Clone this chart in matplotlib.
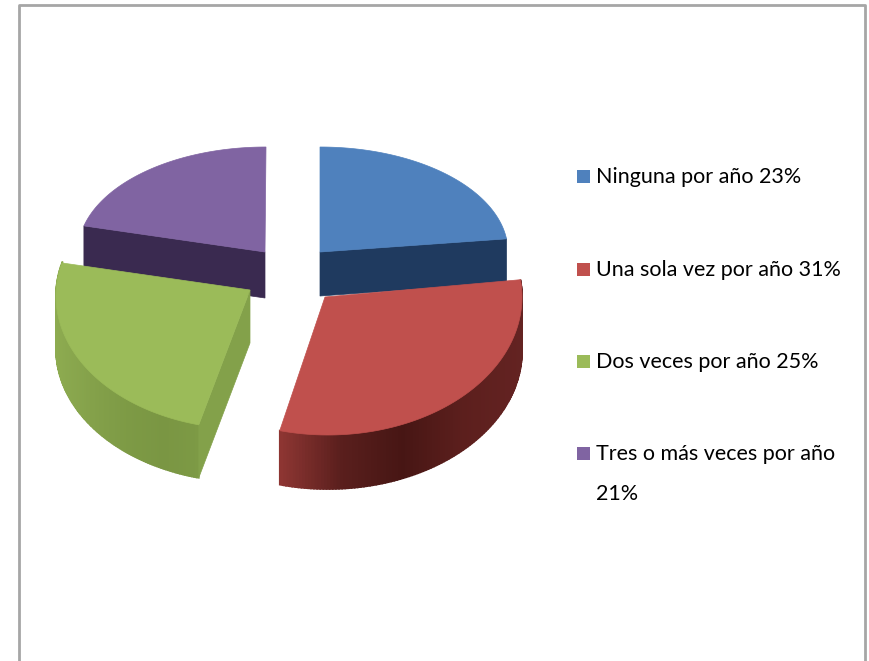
import numpy as np
import matplotlib
matplotlib.use("Agg")
import matplotlib.pyplot as plt
from matplotlib.patches import Polygon, Rectangle
from matplotlib.colors import to_rgb

# exploded 3d style pie, drawn in pixel coords of the original picture

labels = ["Ninguna por año 23%", "Una sola vez por año 31%",
          "Dos veces por año 25%", "Tres o más veces por año\n21%"]
values = [23, 31, 25, 21]
top_colors = ["#4f81bd", "#c0504d", "#9bbb59", "#8064a2"]
face_colors = ["#1f3a5f", "#5a1e1c", "#7d9a45", "#3a2a50"]

# slice geometry: apex, ellipse centre, radii, depth
apex_x = [320, 325, 250, 265]
apex_y = [252, 297, 290, 252]
centre_x = [320, 328, 246, 266]
centre_y = [252, 297, 296, 252]
radius_x = [188, 194, 190, 188]
radius_y = [105, 138, 133, 105]
depth = [44, 54, 53, 46]

# rim shading, left to right across each slice
rim_red = ["#8e3633", "#5a1f1d", "#471614", "#5c1f1d", "#642322"]
rim_green = ["#8dab50", "#84a14a", "#7d9a45", "#7a9643", "#7d9a45"]

legend_y = [177, 270, 362, 454]

W, H = 870, 661
fig = plt.figure(figsize=(W / 100, H / 100), dpi=100)
ax = fig.add_axes([0, 0, 1, 1])
ax.set_xlim(0, W)
ax.set_ylim(H, 0)
ax.axis("off")

# frame, runs off the bottom of the picture
ax.plot([19, 19, 865, 865], [H, 5, 5, H], color="#a6a6a6", lw=2, zorder=1)


def point(i, ang):
    # angle in degrees, clockwise from the top of the ellipse
    a = np.radians(ang)
    return (centre_x[i] + radius_x[i] * np.sin(a),
            centre_y[i] - radius_y[i] * np.cos(a))


def shade(stops, t):
    rgb = np.array([to_rgb(c) for c in stops])
    pos = np.linspace(0, 1, len(stops))
    return [np.interp(t, pos, rgb[:, k]) for k in range(3)]


def cut_face(i, ang, color, z):
    px, py = point(i, ang)
    cx, cy = apex_x[i], apex_y[i]
    d = depth[i]
    ax.add_patch(Polygon([(cx, cy), (px, py), (px, py + d), (cx, cy + d)],
                         closed=True, fc=color, ec=color, lw=0.5, zorder=z))


def rim(i, a0, a1, stops, z):
    angs = np.linspace(a0, a1, 121)
    xs = [point(i, a)[0] for a in angs]
    x_lo, x_hi = min(xs), max(xs)
    for a, b in zip(angs[:-1], angs[1:]):
        ax0, ay0 = point(i, a)
        ax1, ay1 = point(i, b)
        c = shade(stops, ((ax0 + ax1) / 2 - x_lo) / (x_hi - x_lo))
        ax.add_patch(Polygon([(ax0, ay0), (ax1, ay1), (ax1, ay1 + depth[i]),
                              (ax0, ay0 + depth[i])],
                             closed=True, fc=c, ec=c, lw=1.2, zorder=z))


def top(i, a0, a1, z):
    angs = np.linspace(a0, a1, 200)
    pts = [(apex_x[i], apex_y[i])] + [point(i, a) for a in angs]
    ax.add_patch(Polygon(pts, closed=True, fc=top_colors[i], ec=top_colors[i],
                         lw=0.5, zorder=z))


edges = np.cumsum([0] + values) * 3.6

# back slices first
cut_face(3, edges[3], face_colors[3], 2)
top(3, edges[3], edges[4], 3)
cut_face(0, edges[1], face_colors[0], 2)
top(0, edges[0], edges[1], 3)

# green slice sits over the purple one
rim(2, edges[2], 285, rim_green, 4)
cut_face(2, edges[2], "#83a14a", 4)
top(2, edges[2], edges[3], 5)

# red slice sits over the blue one
rim(1, edges[1], edges[2], rim_red, 4)
top(1, edges[1], edges[2], 5)

for y, lab, col in zip(legend_y, labels, top_colors):
    ax.add_patch(Rectangle((577, y - 7), 13, 13, fc=col, ec="none", zorder=6))
    ax.text(596, y - 10, lab, ha="left", va="top", color="#000000",
            family="Lato", fontsize=15.5, linespacing=2.25, zorder=6)

fig.savefig("out.png", dpi=100)
